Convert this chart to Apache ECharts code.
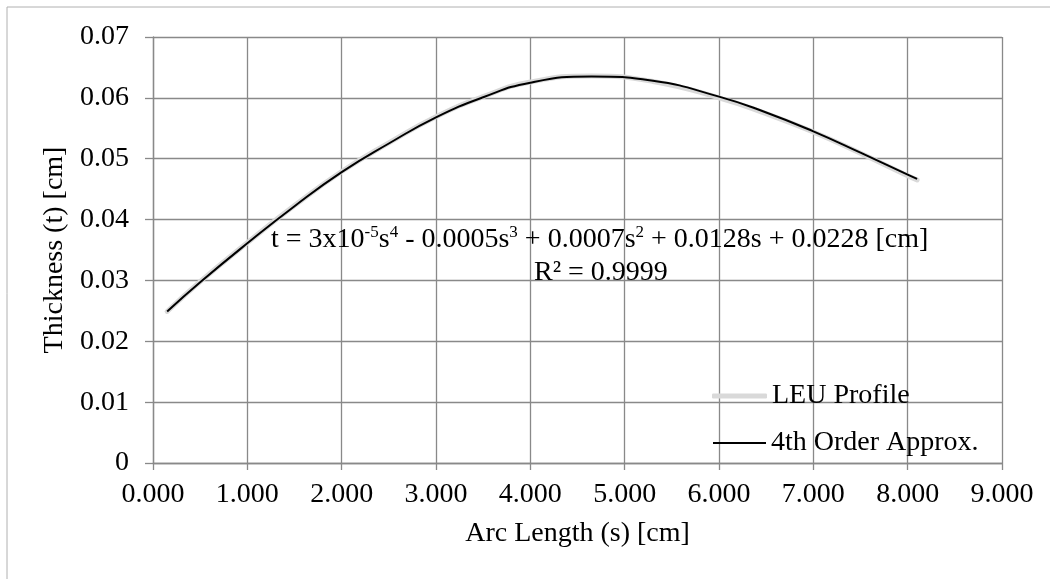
<!DOCTYPE html>
<html>
<head>
<meta charset="utf-8">
<script src="https://cdn.jsdelivr.net/npm/echarts@6/dist/echarts.min.js"></script>
<style>
  html, body { margin: 0; padding: 0; background: #fff; }
  #chart { width: 1050px; height: 579px; }
</style>
</head>
<body>
<div id="chart"></div>
<script>
// arc length s [cm] and thickness t [cm]
var arcLength = [0.15, 0.5, 1.0, 1.5, 2.0, 2.5, 3.0, 3.5, 4.0, 4.65, 5.3, 6.0, 6.5, 7.0, 7.5, 8.0, 8.1];
var leuProfile = [0.0249, 0.0298, 0.0362, 0.0423, 0.0479, 0.0526, 0.0569, 0.0602, 0.0626, 0.0636, 0.0627, 0.0600, 0.0574, 0.0544, 0.0509, 0.0472, 0.0465];
var approx4th = [0.0249, 0.0297, 0.0361, 0.0422, 0.0478, 0.0525, 0.0568, 0.0601, 0.0625, 0.0635, 0.0628, 0.0602, 0.0576, 0.0545, 0.0510, 0.0474, 0.0467];
var seriesNames = ['LEU Profile', '4th Order Approx.'];

var font = '"Liberation Serif", "Times New Roman", serif';

function pairs(xs, ys) {
    var res = [];
    for (var i = 0; i < xs.length; i++) {
        res.push([xs[i], ys[i]]);
    }
    return res;
}

var myChart = echarts.init(document.getElementById('chart'));

var axisGray = { color: '#898989', width: 1.3 };
var legendText = { fontFamily: font, fontSize: 28, color: '#000', lineHeight: 28 };

var option = {
    backgroundColor: '#fff',
    animation: false,
    textStyle: { fontFamily: font, color: '#000' },
    grid: { left: 153, right: 48, top: 37, bottom: 116 },
    xAxis: {
        type: 'value',
        min: 0, max: 9, interval: 1,
        name: 'Arc Length (s) [cm]',
        nameLocation: 'middle',
        nameGap: 57,
        nameTextStyle: { fontFamily: font, fontSize: 28, color: '#000' },
        axisLine: { onZero: false, lineStyle: axisGray },
        axisTick: { show: true, length: 7, lineStyle: axisGray },
        axisLabel: {
            margin: 18, fontFamily: font, fontSize: 28, color: '#000',
            formatter: function (v) { return v.toFixed(3); }
        },
        splitLine: { show: true, lineStyle: axisGray }
    },
    yAxis: {
        type: 'value',
        min: 0, max: 0.07, interval: 0.01,
        name: 'Thickness (t) [cm]',
        nameLocation: 'middle',
        nameGap: 80,
        nameTextStyle: { fontFamily: font, fontSize: 28, color: '#000' },
        axisLine: { show: true, lineStyle: axisGray },
        axisTick: { show: true, length: 8, lineStyle: axisGray },
        axisLabel: {
            margin: 24, fontFamily: font, fontSize: 28, color: '#000',
            formatter: function (v) { return v === 0 ? '0' : v.toFixed(2); }
        },
        splitLine: { show: true, lineStyle: axisGray }
    },
    legend: [
        {
            left: 707, top: 377,
            itemWidth: 55, itemHeight: 5, itemGap: 4,
            icon: 'roundRect',
            data: [seriesNames[0]],
            itemStyle: { color: '#d9d9d9', borderWidth: 0 },
            textStyle: legendText
        },
        {
            left: 708, top: 424,
            itemWidth: 53, itemHeight: 2, itemGap: 4,
            icon: 'rect',
            data: [seriesNames[1]],
            itemStyle: { color: '#000', borderWidth: 0 },
            textStyle: legendText
        }
    ],
    graphic: [
        {
            type: 'rect',
            shape: { x: 7, y: 7, width: 1200, height: 800 },
            style: { fill: 'none', stroke: '#b0b0b0', lineWidth: 1 },
            silent: true
        },
        {
            type: 'text',
            left: 271,
            top: 224,
            style: {
                text: '{n|t = 3x10}{s|-5}{n|s}{s|4}{n| - 0.0005s}{s|3}{n| + 0.0007s}{s|2}{n| + 0.0128s + 0.0228 [cm]}',
                rich: {
                    n: { fontFamily: font, fontSize: 28, lineHeight: 32, fill: '#000' },
                    s: { fontFamily: font, fontSize: 17, lineHeight: 32, verticalAlign: 'top', fill: '#000' }
                }
            },
            z: 10
        },
        {
            type: 'text',
            left: 534,
            top: 259,
            style: {
                text: 'R² = 0.9999',
                fontFamily: font, fontSize: 28, fill: '#000'
            },
            z: 10
        }
    ],
    series: [
        {
            name: seriesNames[0],
            type: 'line',
            smooth: 0.5,
            symbol: 'none',
            data: pairs(arcLength, leuProfile),
            lineStyle: { color: '#d9d9d9', width: 5, cap: 'round' },
            itemStyle: { color: '#d9d9d9' },
            z: 2
        },
        {
            name: seriesNames[1],
            type: 'line',
            smooth: 0.5,
            symbol: 'none',
            data: pairs(arcLength, approx4th),
            lineStyle: { color: '#000', width: 2 },
            itemStyle: { color: '#000' },
            z: 3
        }
    ]
};

myChart.setOption(option);
</script>
</body>
</html>
